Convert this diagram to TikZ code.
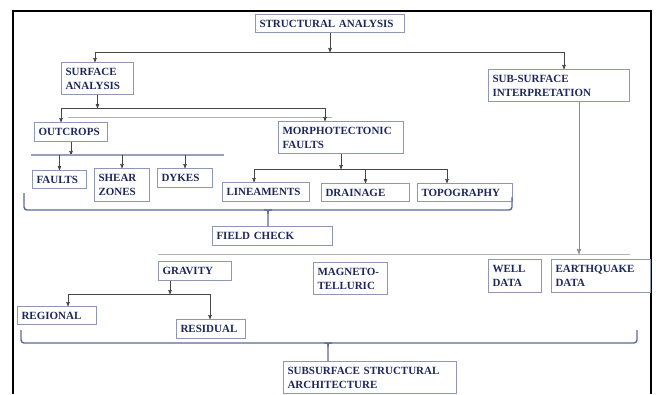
\documentclass[tikz,border=0pt]{standalone}
\usepackage{fontspec}
\setmainfont{Liberation Serif}
\usepackage{tikz}
\usetikzlibrary{arrows,positioning,calc}

\definecolor{navy}{RGB}{28,40,92}
\definecolor{boxline}{RGB}{140,152,182}
\definecolor{linkgray}{RGB}{70,70,70}
\definecolor{bracecol}{RGB}{90,106,152}
\definecolor{barblue}{RGB}{150,160,188}

\begin{document}
\begin{tikzpicture}[x=1pt, y=-1pt, >=stealth', semithick,
    box/.style={draw=boxline, line width=1pt, anchor=north west, align=left, text=navy,
      inner xsep=4pt, inner ysep=1pt, text width=#1,
      font=\fontsize{11}{14}\selectfont\bfseries},
    link/.style={draw=linkgray, line width=0.6pt},
    faint/.style={draw=black!30, line width=0.6pt},
    brace/.style={draw=bracecol, line width=1.4pt, rounded corners=3pt}]

    \useasboundingbox (0,0) rectangle (656,394);
    \draw[line width=2.5pt] (13,394) |- (651,11) -- (651,394);

    % boxes
    \node[box=141pt, minimum height=18pt] (struct)   at (255,14)  {STRUCTURAL ANALYSIS};
    \node[box=64pt,  minimum height=32pt] (surf)     at (61,62)   {SURFACE\\ANALYSIS};
    \node[box=133pt, minimum height=32pt] (subint)   at (488,69)  {SUB-SURFACE\\INTERPRETATION};
    \node[box=65pt,  minimum height=19pt] (outcrops) at (34,122)  {OUTCROPS};
    \node[box=117pt, minimum height=32pt] (morpho)   at (278,121) {MORPHOTECTONIC\\FAULTS};
    \node[box=46pt,  minimum height=18pt] (faults)   at (32,170)  {FAULTS};
    \node[box=47pt,  minimum height=33pt] (shear)    at (94,168)  {SHEAR\\ZONES};
    \node[box=47pt,  minimum height=19pt] (dykes)    at (157,168) {DYKES};
    \node[box=79pt,  minimum height=19pt] (linea)    at (222,182) {LINEAMENTS};
    \node[box=80pt,  minimum height=18pt] (drain)    at (321,183) {DRAINAGE};
    \node[box=87pt,  minimum height=18pt] (topo)     at (417,183) {TOPOGRAPHY};
    \node[box=112pt, minimum height=19pt] (field)    at (212,226) {FIELD CHECK};
    \node[box=65pt,  minimum height=19pt] (gravity)  at (158,261) {GRAVITY};
    \node[box=66pt,  minimum height=32pt] (magneto)  at (313,262) {MAGNETO-\\TELLURIC};
    \node[box=45pt,  minimum height=33pt] (well)     at (488,259) {WELL\\DATA};
    \node[box=91pt,  minimum height=33pt] (quake)    at (551,259) {EARTHQUAKE\\DATA};
    \node[box=71pt,  minimum height=18pt] (regional) at (17,306)  {REGIONAL};
    \node[box=61pt,  minimum height=19pt] (residual) at (176,319) {RESIDUAL};
    \node[box=165pt, minimum height=32pt] (arch)     at (283,361) {SUBSURFACE STRUCTURAL\\ARCHITECTURE};

    % bar ends
    \coordinate (t1) at (95,52);   \coordinate (t2) at (564,52);
    \coordinate (s1) at (61,108);  \coordinate (s2) at (325,108);
    \coordinate (f1) at (68,117);  \coordinate (f2) at (332,117);
    \coordinate (o1) at (31,155);  \coordinate (o2) at (224,155);
    \coordinate (m1) at (254,169); \coordinate (m2) at (447,169);
    \coordinate (w0) at (158,254); \coordinate (w1) at (579,254); \coordinate (w2) at (630,254);
    \coordinate (g0) at (170,294); \coordinate (g1) at (68,294);  \coordinate (g2) at (210,294);
    \coordinate (c1) at (268,210); \coordinate (c2) at (328,343);

    % structural analysis
    \draw[link,->] (struct.south) -- (struct.south |- t1);
    \draw[link] (t1) -- (t2);
    \draw[link,->] (t1) -- (t1 |- surf.north);
    \draw[link,->] (t2) -- (t2 |- subint.north);

    % surface analysis
    \draw[link,->] (surf.south) -- (surf.south |- s1);
    \draw[link] (s1) -- (s2);
    \draw[faint] (f1) -- (f2);
    \draw[link,->] (s1) -- (s1 |- outcrops.north);
    \draw[link,->] (s2) -- (s2 |- morpho.north);

    % outcrops
    \draw[link,->] (outcrops.south) -- (outcrops.south |- o1);
    \draw[barblue, line width=2pt] (o1) -- (o2);
    \draw[link,->] (faults.north |- o1) -- (faults.north);
    \draw[link,->] (shear.north |- o1) -- (shear.north);
    \draw[link,->] (dykes.north |- o1) -- (dykes.north);

    % morphotectonic faults
    \draw[link,->] (morpho.south) -- (morpho.south |- m1);
    \draw[link] (m1) -- (m2);
    \draw[link,->] (m1) -- (m1 |- linea.north);
    \draw[link,->] (drain.north |- m1) -- (drain.north);
    \draw[link,->] (m2) -- (m2 |- topo.north);

    % field check brace
    \draw[brace] (24,193) |- (512,210) -- (512,197);
    \draw[brace] ($(c1)+(-4,0)$) .. controls (c1) .. ($(c1)+(0,4)$) -- (c1 |- field.north);
    \draw[brace] ($(c1)+(4,0)$) .. controls (c1) .. ($(c1)+(0,4)$);

    % sub-surface interpretation
    \draw[link, draw=black!45, line width=0.9pt, ->] (w1 |- subint.south) -- (w1);
    \draw[faint] (w0) -- (w2);

    % gravity
    \draw[link,->] (g0 |- gravity.south) -- (g0);
    \draw[link] (g1) -- (g2);
    \draw[link,->] (g1) -- (g1 |- regional.north);
    \draw[link,->] (g2) -- (g2 |- residual.north);

    % architecture brace
    \draw[brace] (21,330) |- (637,343) -- (637,330);
    \draw[brace] ($(c2)+(-4,0)$) .. controls (c2) .. ($(c2)+(0,4)$) -- (c2 |- arch.north);
    \draw[brace] ($(c2)+(4,0)$) .. controls (c2) .. ($(c2)+(0,4)$);
\end{tikzpicture}
\end{document}
